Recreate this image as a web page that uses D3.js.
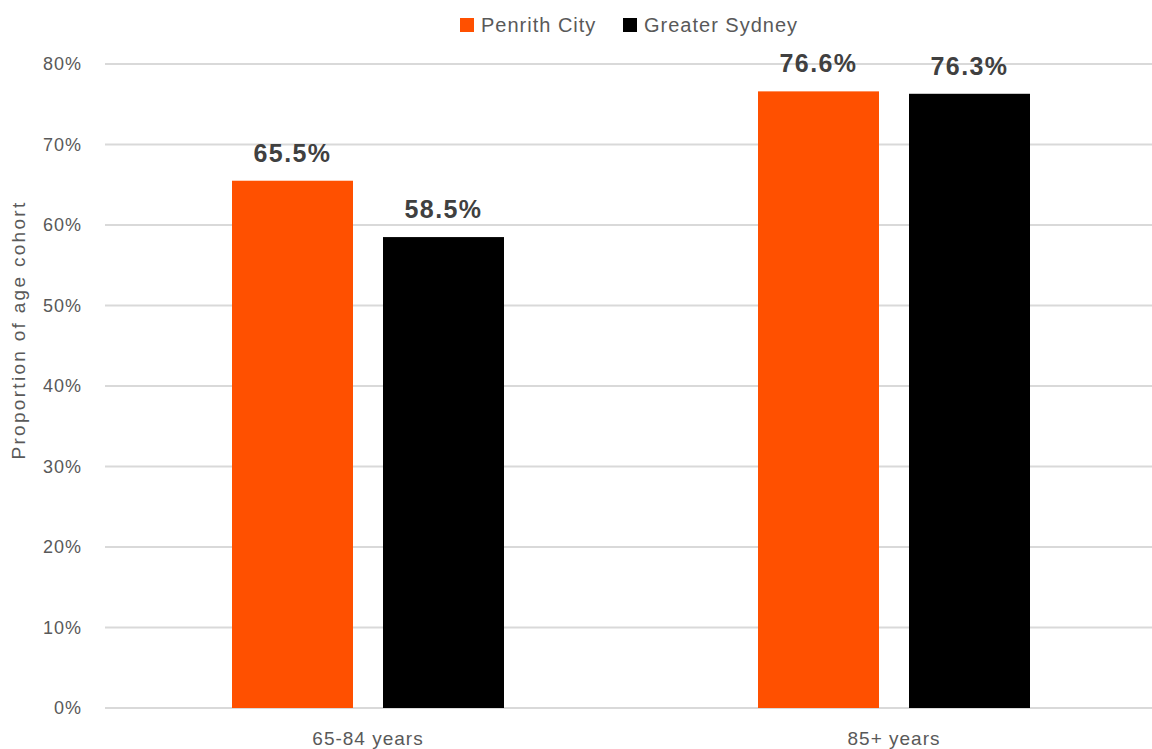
<!DOCTYPE html>
<html>
<head>
<meta charset="utf-8">
<script src="https://cdn.jsdelivr.net/npm/d3@7"></script>
<style>
  html, body { margin: 0; padding: 0; background: #fff; }
  svg { display: block; }
</style>
</head>
<body>
<svg id="chart" width="1152" height="749"></svg>
<script>
// Age cohorts on the x axis
const cohorts = ["65-84 years", "85+ years"];
// Areas compared in each cohort
const areas = ["Penrith City", "Greater Sydney"];
const areaColors = ["#ff5000", "#000000"];
// Proportion of each age cohort (%)
const penrithValues = [65.5, 76.6];
const sydneyValues = [58.5, 76.3];
// Y axis ticks (%)
const yTicks = [0, 10, 20, 30, 40, 50, 60, 70, 80];

const seriesValues = [penrithValues, sydneyValues];
const rows = cohorts.map((c, i) => ({
  cohort: c,
  values: areas.map((a, j) => ({ area: a, value: seriesValues[j][i], color: areaColors[j] }))
}));

const svg = d3.select("#chart");
const margin = { left: 105, right: -5, top: 64, bottom: 41 };
const W = 1152, H = 749;
const font = "'Liberation Sans', Arial, sans-serif";
const textGrey = "#595959";

const x = d3.scaleBand().domain(cohorts).range([margin.left, W - margin.right]);
const y = d3.scaleLinear().domain([0, 80]).range([H - margin.bottom, margin.top]);
const barW = 121, barGap = 30;
const groupW = 2 * barW + barGap;
const xInner = d3.scaleBand().domain(areas)
  .range([0, groupW]).paddingInner(barGap / (barW + barGap));

// Gridlines
svg.append("g").selectAll("line").data(yTicks).join("line")
  .attr("x1", margin.left).attr("x2", W)
  .attr("y1", d => y(d)).attr("y2", d => y(d))
  .attr("stroke", "#d9d9d9").attr("stroke-width", 2);

// Y axis labels
const yAxis = d3.axisLeft(y).tickValues(yTicks).tickFormat(d => d + "%").tickSize(0).tickPadding(0);
const yg = svg.append("g").attr("transform", `translate(82,0)`).call(yAxis);
yg.select(".domain").remove();
yg.selectAll("text").attr("font-family", font).attr("font-size", 18)
  .attr("letter-spacing", 1).attr("fill", textGrey);

// Y axis title
svg.append("text")
  .attr("transform", `translate(25,330) rotate(-90)`)
  .attr("text-anchor", "middle")
  .attr("font-family", font).attr("font-size", 19).attr("letter-spacing", 2.3)
  .attr("fill", textGrey)
  .text("Proportion of age cohort");

// Bars
const groups = svg.append("g").selectAll("g").data(rows).join("g")
  .attr("transform", d => `translate(${x(d.cohort) + x.bandwidth() / 2 - groupW / 2},0)`);

groups.selectAll("rect").data(d => d.values).join("rect")
  .attr("x", d => xInner(d.area))
  .attr("width", xInner.bandwidth())
  .attr("y", d => y(d.value))
  .attr("height", d => y(0) - y(d.value))
  .attr("fill", d => d.color);

// Value labels
groups.selectAll("text").data(d => d.values).join("text")
  .attr("x", d => xInner(d.area) + xInner.bandwidth() / 2)
  .attr("y", d => y(d.value) - 19)
  .attr("text-anchor", "middle")
  .attr("font-family", font).attr("font-size", 25).attr("font-weight", "bold")
  .attr("letter-spacing", 1.4)
  .attr("fill", "#404040")
  .text(d => d.value.toFixed(1) + "%");

// X axis labels
const xAxis = d3.axisBottom(x).tickSize(0).tickPadding(0);
const xg = svg.append("g").attr("transform", `translate(0,745)`).call(xAxis);
xg.select(".domain").remove();
xg.selectAll("text").attr("font-family", font).attr("font-size", 19)
  .attr("letter-spacing", 1).attr("fill", textGrey)
  .attr("dy", 0).attr("y", 0);

// Legend
const legendX = [460, 623];
areas.forEach((a, i) => {
  const g = svg.append("g").attr("transform", `translate(${legendX[i]},18)`);
  g.append("rect").attr("width", 14).attr("height", 14).attr("fill", areaColors[i]);
  g.append("text").attr("x", 21).attr("y", 14)
    .attr("font-family", font).attr("font-size", 20).attr("letter-spacing", 1)
    .attr("fill", textGrey)
    .text(a);
});
</script>
</body>
</html>
